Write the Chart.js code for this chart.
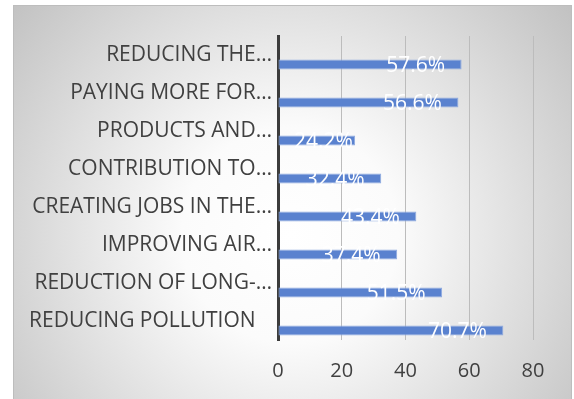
<!DOCTYPE html>
<html>
<head>
<meta charset="utf-8">
<script src="https://cdn.jsdelivr.net/npm/chart.js@4/dist/chart.umd.min.js"></script>
<style>
  html, body { margin: 0; padding: 0; background: #ffffff; }
  canvas { display: block; }
</style>
</head>
<body>
<canvas id="chart" width="574" height="399"></canvas>
<script>
// Survey: perceived benefits (share of respondents, %)
const categories = [
  'REDUCING THE\u2026',
  'PAYING MORE FOR\u2026',
  'PRODUCTS AND\u2026',
  'CONTRIBUTION TO\u2026',
  'CREATING JOBS IN THE\u2026',
  'IMPROVING AIR\u2026',
  'REDUCTION OF LONG-\u2026',
  'REDUCING POLLUTION   '
];
const shares = [57.6, 56.6, 24.2, 32.4, 43.4, 37.4, 51.5, 70.7];
const spacer = categories.map(() => null);
const xTicks = [0, 20, 40, 60, 80];

const FONT = "'Open Sans', 'Liberation Sans', sans-serif";

// Framed panel with a soft radial grey gradient behind the chart
const panelBackground = {
  id: 'panelBackground',
  beforeDraw(chart) {
    const ctx = chart.ctx;
    ctx.save();
    ctx.fillStyle = '#ffffff';
    ctx.fillRect(0, 0, chart.width, chart.height);
    const x0 = 13, y0 = 5, x1 = 572, y1 = 402;
    const g = ctx.createRadialGradient(290, 235, 0, 290, 235, 360);
    g.addColorStop(0, '#ffffff');
    g.addColorStop(0.3, '#fbfbfb');
    g.addColorStop(1, '#c2c2c2');
    ctx.fillStyle = g;
    ctx.fillRect(x0, y0, x1 - x0, y1 - y0);
    ctx.strokeStyle = '#bdbdbd';
    ctx.lineWidth = 1;
    ctx.strokeRect(x0 + 0.5, y0 + 0.5, x1 - x0 - 1, y1 - y0);
    ctx.restore();
  }
};

// White percentage labels placed near the inner end of each bar
const barValueLabels = {
  id: 'barValueLabels',
  afterDatasetsDraw(chart) {
    const ctx = chart.ctx;
    const meta = chart.getDatasetMeta(1);
    ctx.save();
    ctx.font = '21px ' + FONT;
    ctx.fillStyle = '#ffffff';
    ctx.textAlign = 'center';
    ctx.textBaseline = 'middle';
    meta.data.forEach((bar, i) => {
      const v = shares[i];
      const cx = Math.max(bar.x - 46, bar.base + 45);
      ctx.fillText(v.toFixed(1) + '%', cx, bar.y + 2);
    });
    ctx.restore();
  }
};

new Chart(document.getElementById('chart'), {
  type: 'bar',
  data: {
    labels: categories,
    datasets: [
      { data: spacer, backgroundColor: 'rgba(0,0,0,0)' },
      {
        data: shares,
        backgroundColor: '#5a82cf',
        borderColor: '#8eaae0',
        borderWidth: 1,
        borderSkipped: false
      }
    ]
  },
  options: {
    indexAxis: 'y',
    responsive: false,
    animation: false,
    devicePixelRatio: 1,
    layout: { padding: { top: 36, right: 41, bottom: 0, left: 0 } },
    datasets: { bar: { categoryPercentage: 1.0, barPercentage: 10 / 19 } },
    plugins: {
      legend: { display: false },
      tooltip: { enabled: false }
    },
    scales: {
      x: {
        min: 0,
        max: 80,
        afterFit(scale) { scale.height = 59; },
        afterBuildTicks(scale) { scale.ticks = xTicks.map(v => ({ value: v })); },
        grid: { color: '#bcbcbc', lineWidth: 1, drawTicks: false },
        border: { display: false },
        ticks: {
          padding: 19,
          color: '#404040',
          font: { family: FONT, size: 20 }
        }
      },
      y: {
        afterFit(scale) { scale.width = 278; },
        grid: { display: false, drawTicks: false },
        border: { display: true, color: '#3c3c3c', width: 3 },
        ticks: {
          padding: 6,
          autoSkip: false,
          color: '#404040',
          font: { family: FONT, size: 21 }
        }
      }
    }
  },
  plugins: [panelBackground, barValueLabels]
});
</script>
</body>
</html>
